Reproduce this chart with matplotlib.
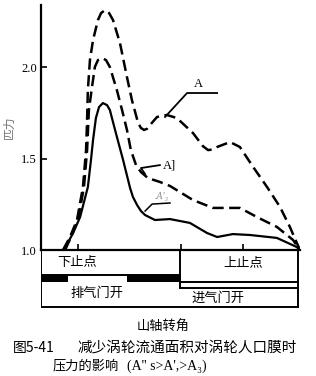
import matplotlib
matplotlib.use("Agg")
import matplotlib.pyplot as plt

plt.rcParams['font.family'] = ['Noto Sans CJK SC', 'DejaVu Sans']

# crank angle (0-100 of the plotted span) and pressure ratio
x_a = [8.5, 11.2, 13.9, 16.2, 17.4, 17.8, 18.1, 18.9, 20.1, 22.0, 23.2, 24.7, 26.3, 27.8,
       30.5, 33.2, 35.1, 37.5, 38.6, 39.8, 41.0, 42.1, 44.8, 48.6, 52.5, 58.7, 62.5, 64.5,
       66.0, 68.0, 73.0, 76.8, 81.9, 87.3, 92.3, 96.1, 98.8, 100]
p_a = [1.000, 1.071, 1.164, 1.344, 1.546, 1.710, 1.874, 2.038, 2.148, 2.257, 2.295, 2.311,
       2.295, 2.257, 2.131, 1.945, 1.820, 1.694, 1.667, 1.656, 1.663, 1.683, 1.727, 1.738,
       1.721, 1.639, 1.568, 1.546, 1.549, 1.563, 1.590, 1.563, 1.454, 1.344, 1.235, 1.126,
       1.038, 1.000]

x_a1 = [9.3, 11.6, 14.3, 16.6, 17.8, 18.5, 19.7, 20.8, 22.0, 23.6, 25.1, 26.6, 29.3, 31.3,
        33.2, 34.7, 36.7, 38.6, 41.3, 45.9, 49.8, 58.7, 66.4, 76.8, 83.4, 91.1, 97.3, 100]
p_a1 = [1.000, 1.071, 1.164, 1.344, 1.546, 1.765, 1.891, 2.000, 2.038, 2.049, 2.038, 2.000,
        1.874, 1.765, 1.656, 1.546, 1.464, 1.426, 1.393, 1.372, 1.350, 1.273, 1.230, 1.230,
        1.180, 1.126, 1.055, 1.000]

x_a3 = [8.5, 9.3, 12.4, 15.1, 18.1, 19.3, 20.1, 21.2, 22.4, 23.9, 25.5, 26.6, 28.6, 31.7,
        34.4, 35.5, 37.1, 38.6, 40.2, 44.0, 49.8, 57.5, 64.1, 68.0, 74.1, 80.7, 91.1, 98.8, 100]
p_a3 = [1.000, 1.011, 1.093, 1.180, 1.344, 1.492, 1.601, 1.721, 1.781, 1.803, 1.792, 1.765,
        1.656, 1.492, 1.339, 1.290, 1.246, 1.213, 1.191, 1.164, 1.169, 1.148, 1.093, 1.071,
        1.087, 1.082, 1.066, 1.016, 1.000]

y_ticks = [1.0, 1.5, 2.0]
y_ticklabels = ['1.0', '1.5', '2.0']
x_marks = [14.3, 54.0, 78.0]

# valve timing strip
tdc_pos = 53.7
exhaust_bars = [(0, 10.4), (33.2, 53.7)]

fig = plt.figure(figsize=(3.16, 3.76), dpi=100)

ax = fig.add_axes([0.1297, 0.3351, 0.8196, 0.6516])
line_kw = dict(color='black', solid_joinstyle='round', dash_joinstyle='round')
ax.plot(x_a, p_a, lw=1.8, dashes=(4.5, 2.2), **line_kw)
ax.plot(x_a1, p_a1, lw=1.8, dashes=(4.5, 2.2), **line_kw)
ax.plot(x_a3, p_a3, lw=1.6, **line_kw)

# leader lines and labels
ax.plot([47.9, 56.4, 68.0], [1.727, 1.858, 1.858], color='black', lw=1.3)
ax.text(60.6, 1.905, 'A', family=['Liberation Serif'], fontsize=9, ha='center', va='center')
ax.plot([40.2, 38.6, 45.9], [1.415, 1.448, 1.464], color='black', lw=1.3)
ax.text(47.0, 1.462, 'A]', family=['Liberation Serif'], fontsize=9, ha='left', va='center')
ax.plot([40.2, 42.9, 49.8], [1.213, 1.251, 1.257], color='black', lw=1.1)
ax.text(46.7, 1.292, '.A\'₃', family=['Liberation Serif', 'DejaVu Serif'], fontsize=7,
        style='italic', color='#888888', ha='center', va='center')

ax.set_xlim(0, 100)
ax.set_ylim(1.0, 2.339)
for s in ['top', 'right']:
    ax.spines[s].set_visible(False)
ax.spines['left'].set_linewidth(1.6)
ax.spines['bottom'].set_linewidth(1.6)
ax.set_yticks(y_ticks)
ax.set_yticklabels(y_ticklabels, family=['Liberation Serif'], fontsize=9)
ax.set_xticks(x_marks)
ax.set_xticklabels([])
ax.tick_params(axis='both', direction='in', length=4, width=1.2, pad=3)
ax.set_ylabel('匹力', color='#777777', fontsize=8.5, labelpad=4)

# timing strip below the axis
bx = fig.add_axes([0.1297, 0.1809, 0.8196, 0.1543])
bx.set_xlim(0, 100)
bx.set_ylim(58, 0)
bx.axis('off')
lw = 1.4
bx.plot([0, 0], [0, 57], color='black', lw=lw)
bx.plot([99.2, 99.2], [0, 57], color='black', lw=lw)
bx.plot([0, 99.2], [57, 57], color='black', lw=lw)
bx.plot([tdc_pos, tdc_pos], [0, 38], color='black', lw=lw)
bx.plot([0, tdc_pos], [25, 25], color='black', lw=lw)
for a, b in exhaust_bars:
    bx.fill_between([a, b], 25, 32, color='black', lw=0)
bx.plot([tdc_pos, 99.2], [32, 32], color='black', lw=lw)
bx.plot([tdc_pos, 99.2], [38, 38], color='black', lw=lw)
bx.text(13.9, 13, '下止点', fontsize=9.5, ha='center', va='center')
bx.text(78.0, 13, '上止点', fontsize=9.5, ha='center', va='center')
bx.text(21.6, 43, '排气门开', fontsize=9.5, ha='center', va='center')
bx.text(68.3, 48, '进气门开', fontsize=9.5, ha='center', va='center')

fig.text(163 / 316, 1 - 327 / 376, '山轴转角', fontsize=9.5, ha='center', va='center')
fig.text(13 / 316, 1 - 348 / 376, '图5-41', fontsize=10, ha='left', va='center')
fig.text(77 / 316, 1 - 348 / 376, '减少涡轮流通面积对涡轮人口膜时', fontsize=10.5,
         ha='left', va='center')
fig.text(53 / 316, 1 - 366 / 376, '压力的影响', fontsize=9.5, ha='left', va='center')
fig.text(127 / 316, 1 - 366 / 376, "(A'' s>A',>A₃)", family=['Liberation Serif', 'DejaVu Serif'],
         fontsize=10, ha='left', va='center')

fig.savefig('out.png', dpi=100)
